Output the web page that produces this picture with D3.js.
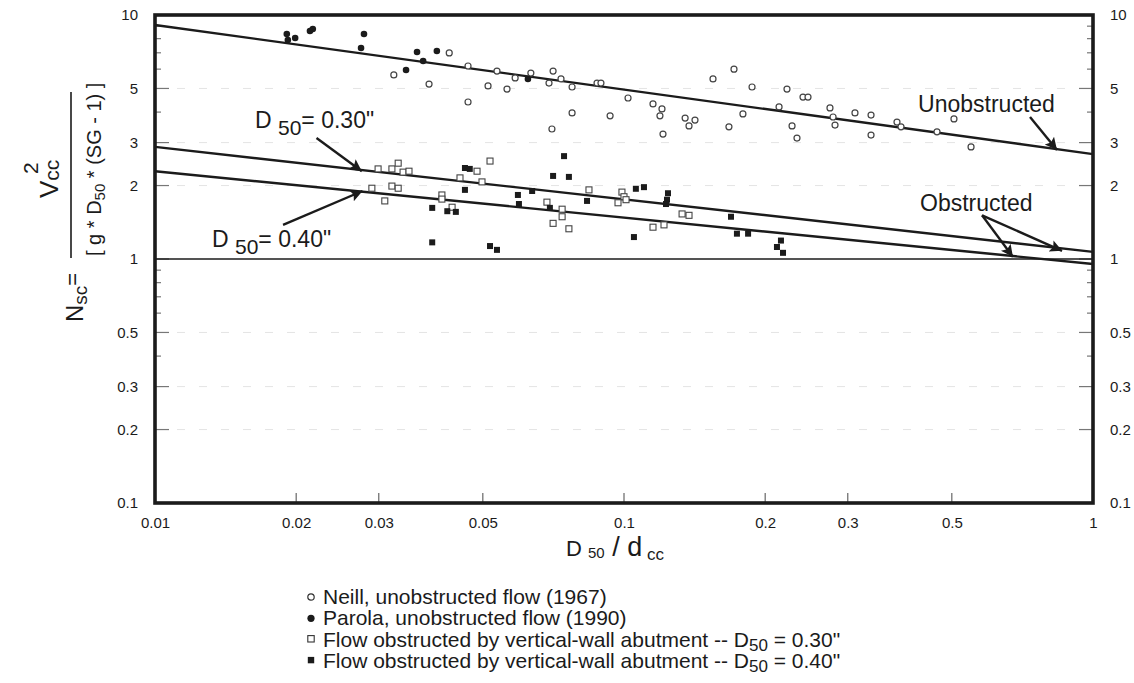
<!DOCTYPE html>
<html>
<head>
<meta charset="utf-8">
<script src="https://cdn.jsdelivr.net/npm/d3@7"></script>
<style>
body{margin:0;background:#fff;}
text{font-family:"Liberation Sans",Arial,Helvetica,sans-serif;fill:#1b1b1b;}
</style>
</head>
<body>
<svg id="chart"></svg>
<script>
const w = 1134, h = 683;

const xTicks = [0.01, 0.02, 0.03, 0.05, 0.1, 0.2, 0.3, 0.5, 1];
const yTicks = [0.1, 0.2, 0.3, 0.5, 1, 2, 3, 5, 10];
const gridVals = [0.2, 0.3, 0.5, 2, 3, 5];

// Neill, unobstructed flow (1967) - open circles
const neill = [
  [0.0424,6.99],[0.0465,6.18],[0.0536,5.89],[0.0586,5.52],[0.0633,5.78],[0.0323,5.68],[0.0384,5.21],
  [0.0465,4.40],[0.0513,5.12],[0.0563,4.97],[0.0706,5.89],[0.0734,5.47],[0.0692,5.26],[0.0775,5.07],
  [0.0876,5.26],[0.0893,5.26],[0.102,4.57],[0.0775,3.97],[0.0934,3.86],[0.0702,3.41],[0.1153,4.32],
  [0.1205,4.12],[0.1193,3.86],[0.135,3.78],[0.1417,3.71],[0.1376,3.51],[0.1211,3.25],[0.1548,5.47],
  [0.1716,6.00],[0.1875,5.07],[0.1674,3.48],[0.1793,3.93],[0.2226,4.97],[0.2408,4.61],[0.2468,4.61],
  [0.2141,4.20],[0.2282,3.51],[0.2338,3.13],[0.2749,4.16],[0.2791,3.82],[0.2818,3.54],[0.3108,3.97],
  [0.3363,3.89],[0.3363,3.22],[0.382,3.64],[0.3896,3.48],[0.4649,3.32],[0.5053,3.75],[0.5495,2.88]
];
// Parola, unobstructed flow (1990) - filled circles
const parola = [
  [0.0191,8.36],[0.0192,7.90],[0.0199,8.05],[0.0214,8.6],[0.0217,8.76],[0.0279,8.36],[0.0275,7.32],
  [0.0362,7.05],[0.0373,6.48],[0.0399,7.12],[0.0343,5.95],[0.0624,5.47]
];
// obstructed, D50 = 0.30" - open squares
const obs30 = [
  [0.0299,2.34],[0.0320,2.34],[0.0330,2.47],[0.0338,2.27],[0.0348,2.29],[0.0447,2.15],[0.0486,2.29],
  [0.0518,2.52],[0.0498,2.07],[0.0320,1.99],[0.0330,1.95],[0.0290,1.95],[0.0309,1.73],[0.0409,1.83],
  [0.0409,1.76],[0.0430,1.63],[0.0842,1.92],[0.0990,1.88],[0.100,1.80],[0.101,1.75],[0.0971,1.70],
  [0.0685,1.71],[0.0738,1.60],[0.0738,1.49],[0.0706,1.40],[0.0763,1.33],[0.1153,1.35],[0.1217,1.38],
  [0.133,1.53],[0.1376,1.51]
];
// obstructed, D50 = 0.40" - filled squares
const obs40 = [
  [0.0458,2.36],[0.0469,2.34],[0.0458,1.92],[0.0390,1.62],[0.0420,1.57],[0.0438,1.56],[0.0390,1.17],
  [0.0518,1.13],[0.0536,1.09],[0.0594,1.83],[0.0597,1.68],[0.0637,1.90],[0.0745,2.64],[0.0706,2.19],
  [0.0763,2.17],[0.0695,1.62],[0.0834,1.73],[0.106,1.94],[0.1103,1.97],[0.1241,1.86],[0.1235,1.75],
  [0.1229,1.68],[0.105,1.23],[0.1691,1.49],[0.1741,1.27],[0.1839,1.27],[0.2161,1.19],[0.2119,1.12],
  [0.2183,1.06]
];

// fitted lines
const fitUnob = [[0.01,9.1],[1,2.69]];
const fit30 = [[0.01,2.88],[1,1.07]];
const fit40 = [[0.01,2.29],[1,0.954]];
const refLine = [[0.01,1],[1,1]];

// annotation arrows [from, to]
const arrows = [
  [[0.0221,3.13],[0.0276,2.29]],
  [[0.01875,1.38],[0.0277,1.90]],
  [[0.734,3.82],[0.838,2.80]],
  [[0.58,1.51],[0.675,1.02]],
  [[0.58,1.51],[0.859,1.08]]
];

const legendLabels = [
  ["circle-open", "Neill, unobstructed flow (1967)"],
  ["circle-fill", "Parola, unobstructed flow (1990)"],
  ["square-open", "Flow obstructed by vertical-wall abutment -- D", "50", " = 0.30\""],
  ["square-fill", "Flow obstructed by vertical-wall abutment -- D", "50", " = 0.40\""]
];

const L = 155, R = 1093, T = 15, B = 503;
const svg = d3.select("#chart").attr("width", w).attr("height", h);
const x = d3.scaleLog().domain([0.01, 1]).range([L, R]);
const y = d3.scaleLog().domain([0.1, 10]).range([B, T]);
const ink = "#1b1b1b";

// faint grid
svg.append("g").selectAll("line").data(gridVals).enter().append("line")
  .attr("x1", L).attr("x2", R).attr("y1", d => y(d)).attr("y2", d => y(d))
  .attr("stroke", "#e4e4e4").attr("stroke-width", 1).attr("stroke-dasharray", "8,14");

// minor / major ticks left and right
const yAll = y.ticks();
const isMajor = d => yTicks.includes(+d.toPrecision(3));
svg.append("g").selectAll("line").data(yAll).enter().append("line")
  .attr("x1", L).attr("x2", d => L + (isMajor(d) ? 14 : 6))
  .attr("y1", d => y(d)).attr("y2", d => y(d))
  .attr("stroke", "#777").attr("stroke-width", 1.2);
svg.append("g").selectAll("line").data(yAll).enter().append("line")
  .attr("x1", R).attr("x2", d => R - (isMajor(d) ? 14 : 6))
  .attr("y1", d => y(d)).attr("y2", d => y(d))
  .attr("stroke", "#777").attr("stroke-width", 1.2);
svg.append("g").selectAll("line").data(xTicks.slice(1, -1)).enter().append("line")
  .attr("x1", d => x(d)).attr("x2", d => x(d)).attr("y1", B).attr("y2", B - 10)
  .attr("stroke", "#666").attr("stroke-width", 1.2);

// axes labels
const fmt = d3.format("~g");
const styleAxis = g => {
  g.select(".domain").remove();
  g.selectAll("line").remove();
  g.selectAll("text").attr("font-family", "Liberation Sans, Arial, sans-serif")
    .attr("font-size", 15).attr("fill", ink);
};
svg.append("g").attr("transform", `translate(${L},0)`)
  .call(d3.axisLeft(y).tickValues(yTicks).tickSize(0).tickPadding(17).tickFormat(fmt)).call(styleAxis);
svg.append("g").attr("transform", `translate(${R},0)`)
  .call(d3.axisRight(y).tickValues(yTicks).tickSize(0).tickPadding(17).tickFormat(fmt)).call(styleAxis);
svg.append("g").attr("transform", `translate(0,${B})`)
  .call(d3.axisBottom(x).tickValues(xTicks).tickSize(0).tickPadding(14).tickFormat(fmt)).call(styleAxis);

// lines
const line = d3.line().x(d => x(d[0])).y(d => y(d[1]));
svg.append("path").datum(refLine).attr("d", line).attr("stroke", ink).attr("stroke-width", 1.6).attr("fill", "none");
[fitUnob, fit30, fit40].forEach(f => {
  svg.append("path").datum(f).attr("d", line).attr("stroke", ink).attr("stroke-width", 2.4).attr("fill", "none");
});

// points
const pts = svg.append("g");
pts.selectAll(".neill").data(neill).enter().append("circle")
  .attr("cx", d => x(d[0])).attr("cy", d => y(d[1])).attr("r", 3)
  .attr("fill", "#fff").attr("stroke", "#444").attr("stroke-width", 1.2);
pts.selectAll(".parola").data(parola).enter().append("circle")
  .attr("cx", d => x(d[0])).attr("cy", d => y(d[1])).attr("r", 3.3).attr("fill", ink);
pts.selectAll(".o30").data(obs30).enter().append("rect")
  .attr("x", d => x(d[0]) - 3).attr("y", d => y(d[1]) - 3).attr("width", 6).attr("height", 6)
  .attr("fill", "#fff").attr("stroke", "#444").attr("stroke-width", 1.1);
pts.selectAll(".o40").data(obs40).enter().append("rect")
  .attr("x", d => x(d[0]) - 3).attr("y", d => y(d[1]) - 3).attr("width", 6).attr("height", 6)
  .attr("fill", ink);

// frame
svg.append("rect").attr("x", L).attr("y", T).attr("width", R - L).attr("height", B - T)
  .attr("fill", "none").attr("stroke", ink).attr("stroke-width", 3.6);

// arrows
svg.append("defs").append("marker").attr("id", "ah").attr("viewBox", "0 0 10 10")
  .attr("refX", 10).attr("refY", 5).attr("markerWidth", 7).attr("markerHeight", 5)
  .attr("markerUnits", "strokeWidth").attr("orient", "auto")
  .append("path").attr("d", "M0,0L10,5L0,10L2,5z").attr("fill", ink);
svg.append("g").selectAll("line").data(arrows).enter().append("line")
  .attr("x1", d => x(d[0][0])).attr("y1", d => y(d[0][1]))
  .attr("x2", d => x(d[1][0])).attr("y2", d => y(d[1][1]))
  .attr("stroke", ink).attr("stroke-width", 2.4).attr("marker-end", "url(#ah)");

// annotation text
svg.append("text").attr("x", x(0.4237)).attr("y", y(4.0)).attr("font-size", 23).text("Unobstructed");
svg.append("text").attr("x", x(0.4277)).attr("y", y(1.57)).attr("font-size", 23).text("Obstructed");
const dLabel = (xv, yv, val) => {
  const t = svg.append("text").attr("x", x(xv)).attr("y", y(yv)).attr("font-size", 23);
  t.append("tspan").text("D ");
  t.append("tspan").attr("dy", 7).attr("font-size", 21).text("50");
  t.append("tspan").attr("dy", -7).text("= " + val);
};
dLabel(0.01634, 3.44, "0.30\"");
dLabel(0.01323, 1.12, "0.40\"");

// x axis title
const xt = svg.append("text").attr("x", 566).attr("y", 556).attr("font-size", 22);
xt.append("tspan").text("D ");
xt.append("tspan").attr("font-size", 15).attr("dy", 2).text("50");
xt.append("tspan").attr("font-size", 27).attr("dy", -2).text(" / d");
xt.append("tspan").attr("font-size", 17).attr("dy", 4).text(" cc");

// y axis title (rotated fraction)
const yl = svg.append("g").attr("transform", "rotate(-90)");
const num = yl.append("text").attr("x", -198).attr("y", 58).attr("font-size", 26);
num.append("tspan").text("V");
num.append("tspan").attr("font-size", 21).attr("dy", 1).text("cc");
yl.append("text").attr("x", -174).attr("y", 38).attr("font-size", 21).text("2");
svg.append("line").attr("x1", 71).attr("x2", 71).attr("y1", 92).attr("y2", 258)
  .attr("stroke", ink).attr("stroke-width", 1.6);
const den = yl.append("text").attr("x", -256).attr("y", 101).attr("font-size", 20);
den.append("tspan").text("[ g * D");
den.append("tspan").attr("font-size", 15).attr("dy", 4).text("50");
den.append("tspan").attr("dy", -4).text(" * (SG - 1) ]");
const ns = yl.append("text").attr("x", -322).attr("y", 83).attr("font-size", 24);
ns.append("tspan").text("N");
ns.append("tspan").attr("font-size", 19).attr("dy", 4).text("sc");
ns.append("tspan").attr("font-size", 22).attr("dy", -7).text("=");

// legend
const lg = svg.append("g").attr("transform", "translate(311,604)");
legendLabels.forEach((d, i) => {
  const gy = i * 21.3;
  const g = lg.append("g").attr("transform", `translate(0,${gy})`);
  if (d[0] === "circle-open") g.append("circle").attr("cx", 0).attr("cy", -7).attr("r", 3.2).attr("fill", "#fff").attr("stroke", "#333").attr("stroke-width", 1.2);
  if (d[0] === "circle-fill") g.append("circle").attr("cx", 0).attr("cy", -7).attr("r", 3.6).attr("fill", ink);
  if (d[0] === "square-open") g.append("rect").attr("x", -3.2).attr("y", -11).attr("width", 6.4).attr("height", 6.4).attr("fill", "#fff").attr("stroke", "#333").attr("stroke-width", 1.1);
  if (d[0] === "square-fill") g.append("rect").attr("x", -3.2).attr("y", -11).attr("width", 6.4).attr("height", 6.4).attr("fill", ink);
  const t = g.append("text").attr("x", 12).attr("y", 0).attr("font-size", 21);
  t.append("tspan").text(d[1]);
  if (d.length > 2) {
    t.append("tspan").attr("font-size", 17).attr("dy", 4).text(d[2]);
    t.append("tspan").attr("dy", -4).text(d[3]);
  }
});
</script>
</body>
</html>
